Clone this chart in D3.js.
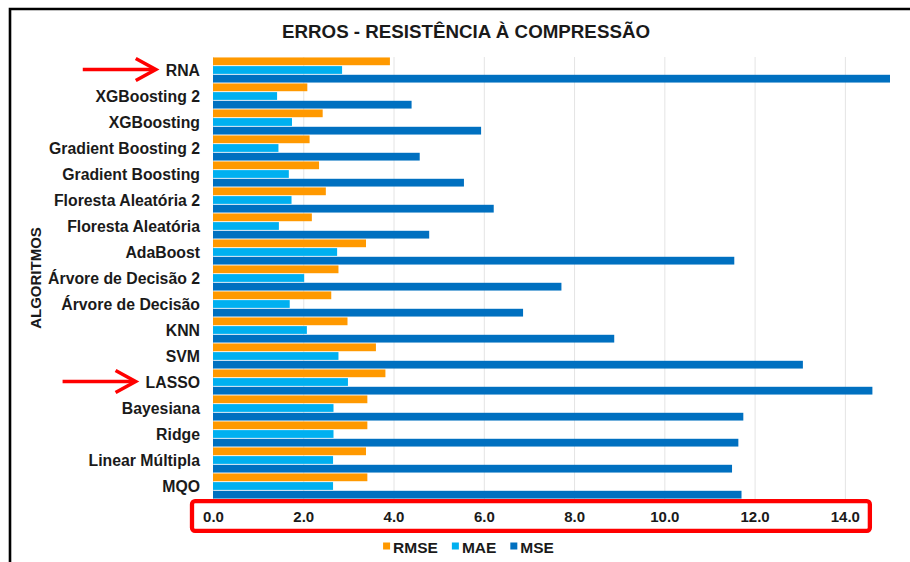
<!DOCTYPE html>
<html>
<head>
<meta charset="utf-8">
<script src="https://cdn.jsdelivr.net/npm/d3@7"></script>
<style>
  html, body { margin: 0; padding: 0; background: #fff; }
  svg { display: block; font-family: "Liberation Sans", Arial, sans-serif; }
</style>
</head>
<body>
<svg id="chart" width="910" height="562"></svg>
<script>
// Algorithms, listed top to bottom
const categories = [
  "RNA", "XGBoosting 2", "XGBoosting", "Gradient Boosting 2", "Gradient Boosting",
  "Floresta Aleatória 2", "Floresta Aleatória", "AdaBoost", "Árvore de Decisão 2",
  "Árvore de Decisão", "KNN", "SVM", "LASSO", "Bayesiana", "Ridge",
  "Linear Múltipla", "MQO"
];
const seriesNames = ["RMSE", "MAE", "MSE"];
const seriesColors = ["#FF9900", "#00B0F0", "#0070C0"];
const rmse = [3.92, 2.09, 2.43, 2.14, 2.35, 2.50, 2.19, 3.39, 2.78, 2.62, 2.98, 3.61, 3.82, 3.42, 3.42, 3.39, 3.42];
const mae  = [2.86, 1.42, 1.75, 1.45, 1.68, 1.74, 1.46, 2.75, 2.02, 1.70, 2.08, 2.78, 2.99, 2.67, 2.67, 2.66, 2.66];
const mse  = [15.4, 4.40, 5.94, 4.58, 5.56, 6.22, 4.79, 11.55, 7.72, 6.87, 8.89, 13.07, 14.61, 11.75, 11.64, 11.50, 11.71];
const xTicks = [0, 2, 4, 6, 8, 10, 12, 14];
const highlighted = ["RNA", "LASSO"];
const titleText = "ERROS - RESISTÊNCIA À COMPRESSÃO";
const yTitle = "ALGORITMOS";

const svg = d3.select("#chart");
const W = 910, H = 562;
const plot = { left: 213, right: 890, top: 57, bottom: 499 };
const textColor = "#1a1a1a";

svg.append("rect").attr("width", W).attr("height", H).attr("fill", "#fff");

// chart frame (continues past the right and bottom edges)
svg.append("path")
  .attr("d", `M10,${H + 5} L10,9 L${W + 5},9`)
  .attr("fill", "none").attr("stroke", "#000").attr("stroke-width", 2.6);

const x = d3.scaleLinear().domain([0, 15]).range([plot.left, plot.right]);
const y = d3.scaleBand().domain(categories).range([plot.top, plot.bottom]).padding(0);
const ySub = d3.scaleBand().domain(seriesNames).range([0, y.bandwidth()]).padding(0);
const color = d3.scaleOrdinal().domain(seriesNames).range(seriesColors);

// vertical gridlines
svg.append("g").selectAll("line").data(xTicks).join("line")
  .attr("x1", d => x(d) + 0.5).attr("x2", d => x(d) + 0.5)
  .attr("y1", plot.top).attr("y2", plot.bottom)
  .attr("stroke", "#e4e4e4").attr("stroke-width", 1);

// bars (clipped at the axis maximum)
svg.append("clipPath").attr("id", "plotClip")
  .append("rect").attr("x", plot.left).attr("y", plot.top - 2)
  .attr("width", plot.right - plot.left).attr("height", plot.bottom - plot.top + 4);

const rows = categories.map((c, i) => ({ cat: c, values: [rmse[i], mae[i], mse[i]] }));
const barG = svg.append("g").attr("clip-path", "url(#plotClip)");
barG.selectAll("g").data(rows).join("g")
  .attr("transform", d => `translate(0,${y(d.cat)})`)
  .selectAll("rect")
  .data(d => d.values.map((v, j) => ({ key: seriesNames[j], value: v })))
  .join("rect")
  .attr("x", x(0))
  .attr("y", d => ySub(d.key) + 0.45)
  .attr("width", d => x(d.value) - x(0))
  .attr("height", ySub.bandwidth() - 0.9)
  .attr("fill", d => color(d.key));

// category labels
const labels = svg.append("g").selectAll("text").data(categories).join("text")
  .attr("x", 200)
  .attr("y", c => y(c) + y.bandwidth() / 2)
  .attr("dy", "0.36em")
  .attr("text-anchor", "end")
  .attr("font-size", 15.8).attr("font-weight", "bold")
  .attr("fill", textColor)
  .text(c => c);

// red arrows pointing at highlighted algorithms
labels.filter(c => highlighted.includes(c)).each(function (c) {
  const bb = this.getBBox();
  const yc = y(c) + y.bandwidth() / 2 - 0.5;
  const tip = bb.x - 10;
  const g = svg.append("g").attr("fill", "none").attr("stroke", "#ff0000")
    .attr("stroke-width", 3.6).attr("stroke-linejoin", "miter");
  g.append("path").attr("d", `M${tip - 73},${yc} L${tip - 1},${yc}`);
  g.append("path").attr("d", `M${tip - 20},${yc - 11} L${tip},${yc} L${tip - 20},${yc + 11}`);
});

// x axis
const xAxis = d3.axisBottom(x).tickValues(xTicks).tickFormat(d3.format(".1f"))
  .tickSize(0).tickPadding(12);
const axG = svg.append("g").attr("transform", `translate(0,${plot.bottom})`).call(xAxis);
axG.select(".domain").remove();
axG.selectAll("text")
  .attr("font-family", "'Liberation Sans', Arial, sans-serif")
  .attr("font-size", 15).attr("font-weight", "bold").attr("fill", textColor);

// red frame around the axis labels
svg.append("rect")
  .attr("x", x(0) - 21).attr("y", plot.bottom + 2.2)
  .attr("width", x(14) - x(0) + 46).attr("height", 29.6)
  .attr("rx", 3).attr("ry", 3)
  .attr("fill", "none").attr("stroke", "#ff0000").attr("stroke-width", 4.3);

// title
svg.append("text")
  .attr("x", 466).attr("y", 37.5)
  .attr("text-anchor", "middle")
  .attr("font-size", 18).attr("font-weight", "bold").attr("fill", textColor)
  .attr("textLength", 368).attr("lengthAdjust", "spacingAndGlyphs")
  .text(titleText);

// y axis title
svg.append("text")
  .attr("transform", `translate(41,${(plot.top + plot.bottom) / 2}) rotate(-90)`)
  .attr("text-anchor", "middle")
  .attr("font-size", 15).attr("font-weight", "bold").attr("fill", textColor)
  .text(yTitle);

// legend
const legend = svg.append("g");
const items = legend.selectAll("g").data(seriesNames).join("g");
items.append("rect").attr("width", 7).attr("height", 7).attr("y", -4.5)
  .attr("fill", d => color(d));
items.append("text").attr("x", 10).attr("dy", "0.36em")
  .attr("font-size", 15.5).attr("font-weight", "bold").attr("fill", textColor)
  .text(d => d);
const itemGap = 14;
let offset = 0;
items.each(function () {
  d3.select(this).attr("transform", `translate(${offset},0)`);
  offset += this.getBBox().width + itemGap;
});
const legendWidth = offset - itemGap;
legend.attr("transform", `translate(${468.5 - legendWidth / 2},547)`);
</script>
</body>
</html>
